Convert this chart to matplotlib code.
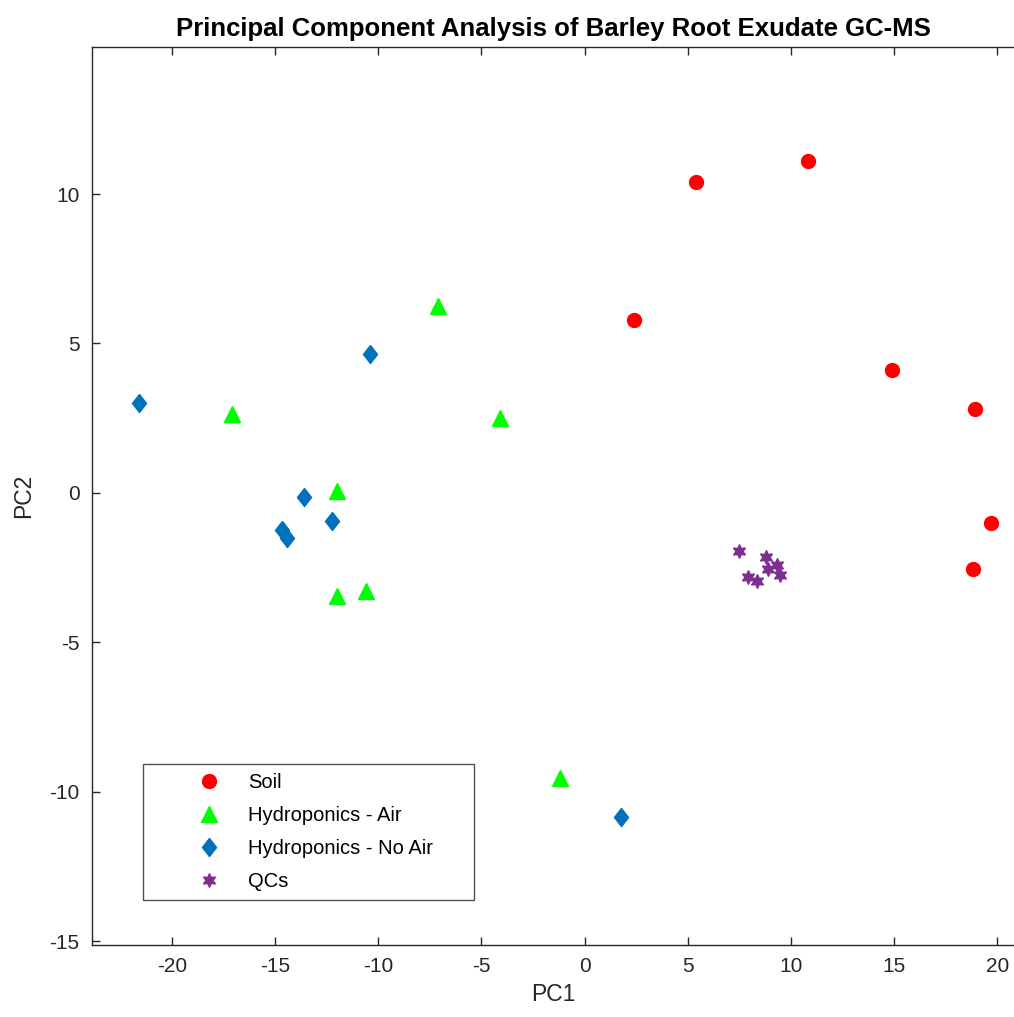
import numpy as np
import matplotlib.pyplot as plt

plt.rcParams['font.family'] = ['Liberation Sans', 'DejaVu Sans']
plt.rcParams['axes.unicode_minus'] = False

# PCA scores
soil_pc1 = [5.4, 10.8, 2.4, 14.9, 18.9, 19.7, 18.8]
soil_pc2 = [10.4, 11.1, 5.8, 4.1, 2.8, -1.0, -2.55]

air_pc1 = [-7.1, -17.1, -4.1, -12.0, -12.0, -10.6, -1.2]
air_pc2 = [6.25, 2.65, 2.5, 0.05, -3.45, -3.3, -9.55]

noair_pc1 = [-21.6, -10.4, -13.6, -12.25, -14.65, -14.4, 1.75]
noair_pc2 = [3.0, 4.65, -0.15, -0.95, -1.25, -1.5, -10.85]

qc_pc1 = [7.5, 8.8, 9.3, 8.9, 7.9, 8.35, 9.45]
qc_pc2 = [-1.95, -2.15, -2.4, -2.55, -2.8, -2.95, -2.75]

# MATLAB-style diamond (a bit wider than mpl's 'd')
diamond = [(0, 1), (0.78, 0), (0, -1), (-0.78, 0), (0, 1)]

fig = plt.figure(figsize=(10.14, 10.17), dpi=100)
ax = fig.add_axes([0.0907, 0.0708, 0.9093, 0.883])

ax.plot(soil_pc1, soil_pc2, 'o', color=(1, 0, 0), markersize=10, label='Soil')
ax.plot(air_pc1, air_pc2, '^', color=(0, 1, 0), markersize=12, label='Hydroponics - Air')
ax.plot(noair_pc1, noair_pc2, marker=diamond, linestyle='none', color='#0072BD',
        markersize=13, label='Hydroponics - No Air')
ax.plot(qc_pc1, qc_pc2, marker=(6, 1, 0), linestyle='none', color='#7E2F8E',
        markersize=10, label='QCs')

ax.set_xlim(-23.87, 20.8)
ax.set_ylim(-15.13, 14.92)
ax.set_xticks(np.arange(-20, 21, 5))
ax.set_yticks(np.arange(-15, 11, 5))
ax.tick_params(direction='in', length=6, width=1, top=True, right=False,
               labelsize=15, colors='#262626', labelcolor='#262626', pad=9)
ax.spines['right'].set_visible(False)
for s in ['left', 'top', 'bottom']:
    ax.spines[s].set_color('#262626')
    ax.spines[s].set_linewidth(1)

ax.set_xlabel('PC1', fontsize=16.5, color='#262626', labelpad=5)
ax.set_ylabel('PC2', fontsize=16.5, color='#262626', labelpad=10)
ax.set_title('Principal Component Analysis of Barley Root Exudate GC-MS',
             fontsize=18.5, fontweight='bold', pad=8)

leg = ax.legend(loc='lower left', bbox_to_anchor=(0.055, 0.05, 0.359, 0.15),
                mode='expand', fontsize=14.5,
                frameon=True, fancybox=False, edgecolor='#262626', borderpad=0.45,
                handletextpad=-0.9, handlelength=5.67, labelspacing=0.7,
                borderaxespad=0)
leg.get_frame().set_linewidth(1)

fig.savefig('out.png', dpi=100)
